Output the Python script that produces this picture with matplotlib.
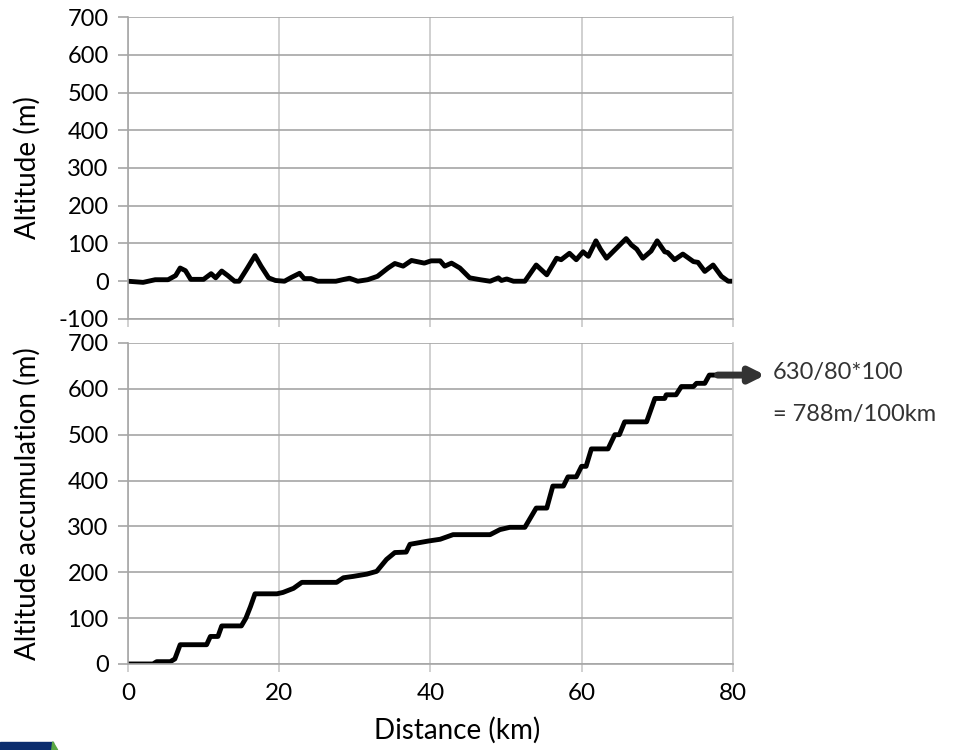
import matplotlib
matplotlib.use("Agg")
import matplotlib.pyplot as plt
from matplotlib.patches import Rectangle, Polygon

plt.rcParams['font.family'] = ['Lato', 'DejaVu Sans']
plt.rcParams['axes.unicode_minus'] = False

# altitude profile along the route
alt_km = [0, 2.0, 3.6, 5.3, 6.3, 6.9, 7.6, 8.3, 10.0, 11.0, 11.6, 12.4, 13.2,
          14.1, 14.7, 15.8, 16.8, 17.6, 18.6, 19.5, 20.7, 21.6, 22.7, 23.3,
          24.2, 25.1, 27.5, 28.6, 29.3, 30.4, 31.7, 33.0, 34.4, 35.3, 36.4,
          37.5, 39.2, 40.1, 41.3, 41.9, 42.8, 43.9, 45.2, 46.6, 47.9, 49.0,
          49.4, 50.1, 51.0, 52.5, 54.0, 55.4, 56.7, 57.3, 58.4, 59.3, 60.2,
          60.9, 61.9, 62.5, 63.3, 64.6, 65.9, 66.6, 67.3, 68.1, 69.2, 70.0,
          71.0, 71.4, 72.3, 73.4, 74.8, 75.4, 76.3, 77.4, 78.5, 79.4, 80.0]
alt_m = [0, -3, 4, 4, 15, 35, 28, 5, 5, 20, 9, 27, 15,
         0, 0, 35, 68, 40, 9, 2, 0, 10, 21, 7,
         7, 0, 0, 5, 8, 0, 4, 13, 35, 47, 40,
         55, 48, 54, 54, 40, 48, 35, 9, 4, 0, 9,
         2, 6, 0, 0, 43, 17, 61, 57, 74, 57, 78,
         66, 107, 85, 61, 87, 113, 96, 85, 61, 80, 107,
         78, 76, 57, 72, 52, 50, 26, 43, 13, 0, 0]

# accumulated climb
acc_km = [0, 3.3, 3.8, 5.6, 6.2, 6.9, 10.4, 10.9, 11.9, 12.4, 15.0, 15.6,
          16.2, 16.8, 19.7, 20.5, 21.9, 23.0, 27.6, 28.5, 29.8, 31.6, 32.9,
          34.2, 35.3, 36.8, 37.3, 39.7, 41.3, 43.0, 47.9, 49.2, 50.5, 52.5,
          54.0, 55.4, 56.2, 57.6, 58.2, 59.3, 60.0, 60.6, 61.3, 63.5, 64.4,
          65.0, 65.7, 68.6, 69.7, 71.0, 71.2, 72.5, 73.2, 74.8, 75.2, 76.3,
          76.9, 80.0]
acc_m = [0, 0, 5, 5, 11, 42, 42, 60, 60, 83, 83, 100,
         125, 153, 153, 156, 165, 178, 178, 188, 191, 196, 202,
         228, 243, 244, 261, 268, 272, 282, 282, 293, 298, 298,
         340, 340, 388, 388, 408, 408, 431, 431, 469, 469, 500,
         500, 528, 528, 579, 579, 587, 587, 605, 605, 612, 612,
         630, 630]

total_climb = 630
distance = 80

fig = plt.figure(figsize=(9.77, 7.5), dpi=100)
ax1 = fig.add_axes([0.131, 0.5747, 0.619, 0.4026])
ax2 = fig.add_axes([0.131, 0.1147, 0.619, 0.428])

for ax in (ax1, ax2):
    ax.set_xlim(0, 80)
    ax.set_xticks([0, 20, 40, 60, 80])
    ax.grid(True, axis='y', color='#a6a6a6', lw=1.2)
    ax.grid(True, axis='x', color='#c8c8c8', lw=1.2)
    ax.set_axisbelow(True)
    for s in ax.spines.values():
        s.set_color('#a6a6a6')
        s.set_linewidth(1.2)
    ax.spines['top'].set_visible(False)
    ax.spines['right'].set_color('#c8c8c8')
    ax.tick_params(axis='y', colors='#a6a6a6', labelcolor='black', length=7,
                   width=1.2, labelsize=17, pad=7)
    ax.tick_params(axis='x', colors='#c8c8c8', labelcolor='black', length=6,
                   width=1.2, labelsize=17.5, pad=8)

ax1.plot(alt_km, alt_m, color='black', lw=3.5, solid_joinstyle='round')
ax1.set_ylim(-100, 700)
ax1.set_yticks(range(-100, 701, 100))
ax1.set_xticklabels([])
ax1.set_ylabel('Altitude (m)', fontsize=20)
ax1.yaxis.set_label_coords(-0.145, 0.5)

ax2.plot(acc_km, acc_m, color='black', lw=3.5, solid_joinstyle='round')
ax2.set_ylim(0, 700)
ax2.set_yticks(range(0, 701, 100))
ax2.set_ylabel('Altitude accumulation (m)', fontsize=20)
ax2.yaxis.set_label_coords(-0.145, 0.5)
ax2.set_xlabel('Distance (km)', fontsize=20)
ax2.xaxis.set_label_coords(0.544, -0.165)

# arrow pointing to the climb rate
ax2.annotate('', xy=(84.3, total_climb), xytext=(78.0, total_climb),
             annotation_clip=False,
             arrowprops=dict(arrowstyle='-|>', lw=5, color='#333333',
                             mutation_scale=22, shrinkA=0, shrinkB=0))
fig.text(0.791, 0.503, f'{total_climb}/{distance}*100', fontsize=17,
         va='center', ha='left', color='#333333')
fig.text(0.791, 0.448,
         f'= {round(total_climb / distance * 100)}m/100km', fontsize=17,
         va='center', ha='left', color='#333333')

# corner logo
fig.patches.append(Rectangle((0, 0), 0.054, 0.011, transform=fig.transFigure,
                             color='#0b2d6e'))
fig.patches.append(Polygon([(0.053, 0), (0.059, 0), (0.054, 0.011)],
                           transform=fig.transFigure, color='#5aa844'))

fig.savefig('out.png', dpi=100)
